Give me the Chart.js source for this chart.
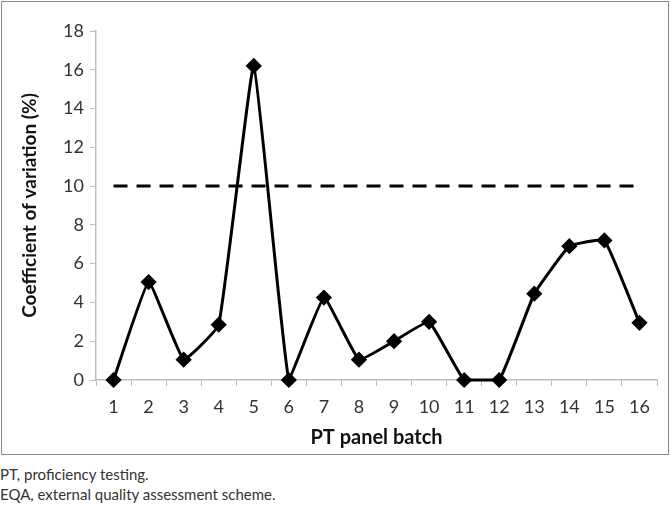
<!DOCTYPE html>
<html>
<head>
<meta charset="utf-8">
<script src="https://cdn.jsdelivr.net/npm/chart.js@4"></script>
<style>
  body { margin: 0; background: #fff; font-family: Lato, sans-serif; }
  .frame {
    position: absolute; left: 1px; top: 1px; width: 666px; height: 452px;
    border: 1px solid #8a8a8a;
  }
  .notes {
    position: absolute; left: 0; top: 464px; font-size: 15px; line-height: 20px; color: #333;
  }
</style>
</head>
<body>
<div class="frame"><canvas id="cvChart" width="666" height="452"></canvas></div>
<div class="notes">PT, proficiency testing.<br>EQA, external quality assessment scheme.</div>
<script>
const batches = ["1","2","3","4","5","6","7","8","9","10","11","12","13","14","15","16"];
const cvValues = [0, 5.05, 1.05, 2.85, 16.2, 0, 4.25, 1.05, 2.0, 3.0, 0, 0, 4.45, 6.9, 7.2, 2.95];
const limitValues = batches.map(() => 10);
const yTicks = [0, 2, 4, 6, 8, 10, 12, 14, 16, 18];

const ctx = document.getElementById("cvChart").getContext("2d");

new Chart(ctx, {
  type: "line",
  data: {
    labels: batches,
    datasets: [
      {
        label: "CV",
        data: cvValues,
        borderColor: "#000",
        backgroundColor: "#000",
        borderWidth: 3,
        tension: 0.1,
        clip: false,
        pointStyle: "rectRot",
        pointRadius: 6,
        pointBackgroundColor: "#000",
        pointBorderColor: "#000",
      },
      {
        label: "Limit",
        data: limitValues,
        borderColor: "#000",
        borderWidth: 3,
        borderDash: [14, 9],
        pointRadius: 0,
        fill: false,
      },
    ],
  },
  options: {
    responsive: false,
    animation: false,
    layout: { padding: { top: 29, right: 11, left: 12, bottom: 0 } },
    plugins: { legend: { display: false }, tooltip: { enabled: false } },
    scales: {
      x: {
        offset: true,
        afterFit: (scale) => { scale.height = 74; },
        grid: {
          offset: true,
          drawOnChartArea: false,
          color: "#bdbdbd",
          tickLength: 6,
        },
        border: { color: "#bdbdbd", width: 1.5 },
        ticks: { color: "#333", font: { family: "Lato", size: 18 }, padding: 10 },
        title: {
          display: true,
          text: "PT panel batch",
          color: "#111",
          font: { family: "Lato", size: 20, weight: "bold" },
          padding: { top: 4 },
        },
      },
      y: {
        min: 0,
        max: 18,
        afterFit: (scale) => { scale.width = 82; },
        afterBuildTicks: (scale) => { scale.ticks = yTicks.map((v) => ({ value: v })); },
        grid: { drawOnChartArea: false, color: "#bdbdbd", tickLength: 6 },
        border: { color: "#bdbdbd", width: 1.5 },
        ticks: { color: "#333", font: { family: "Lato", size: 18 }, padding: 6 },
        title: {
          display: true,
          text: "Coefficient of variation (%)",
          color: "#111",
          font: { family: "Lato", size: 19, weight: "bold" },
          padding: { bottom: 4 },
        },
      },
    },
  },
});
</script>
</body>
</html>
